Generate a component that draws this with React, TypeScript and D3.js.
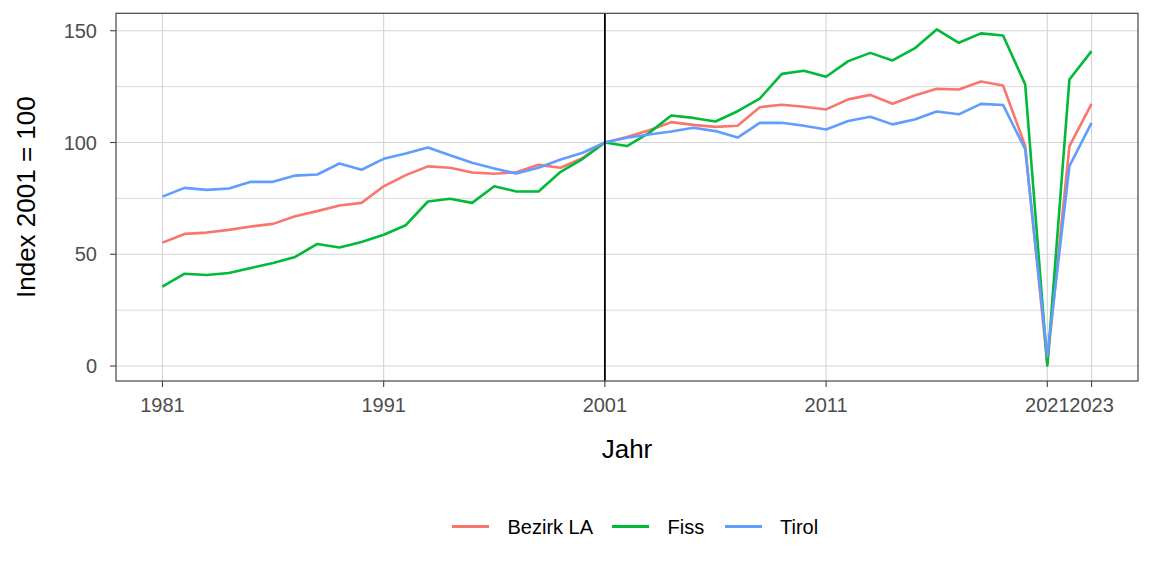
import React from "react";
import * as d3 from "d3";

const years: number[] = d3.range(1981, 2024);

const bezirkLA: number[] = [
  55.2, 59.1, 59.7, 60.9, 62.4, 63.6, 67.0, 69.3, 71.8, 73.0,
  80.4, 85.4, 89.3, 88.7, 86.6, 86.0, 86.7, 90.0, 88.7, 93.1,
  100, 102.5, 105.5, 109.1, 107.9, 107.0, 107.5, 115.8, 116.9, 116.0,
  114.8, 119.3, 121.3, 117.3, 121.0, 124.0, 123.7, 127.3, 125.5, 98.5,
  1.0, 98.4, 117.3,
];
const fiss: number[] = [
  35.5, 41.3, 40.7, 41.6, 43.9, 46.1, 48.8, 54.6, 53.0, 55.5,
  58.7, 63.0, 73.6, 74.8, 73.0, 80.4, 78.1, 78.1, 86.9, 92.7,
  100, 98.4, 104.3, 112.1, 111.0, 109.4, 114.0, 119.6, 130.7, 132.1,
  129.4, 136.4, 140.1, 136.7, 142.1, 150.6, 144.6, 148.8, 147.9, 126.0,
  0.2, 128.2, 140.9,
];
const tirol: number[] = [
  75.8, 79.7, 78.8, 79.4, 82.4, 82.4, 85.2, 85.7, 90.6, 87.8,
  92.7, 95.1, 97.8, 94.3, 90.9, 88.4, 86.1, 88.7, 92.4, 95.4,
  100, 102.1, 103.6, 104.9, 106.6, 105.1, 102.2, 108.8, 108.8, 107.5,
  105.8, 109.6, 111.5, 108.1, 110.3, 113.9, 112.6, 117.3, 116.8, 97.0,
  4.3, 89.4, 108.8,
];

const seriesNames: string[] = ["Bezirk LA", "Fiss", "Tirol"];
const seriesColors: string[] = ["#F8766D", "#00BA38", "#619CFF"];
const xTicks: number[] = [1981, 1991, 2001, 2011, 2021, 2023];
const yTicks: number[] = [0, 50, 100, 150];
const yMinor: number[] = [25, 75, 125];
const refYear = 2001;

const W = 1152;
const H = 576;
const panel = { left: 116, right: 1138, top: 13.3, bottom: 381 };
const FONT = "'Liberation Sans', Arial, sans-serif";

export default function App() {
  const x = d3.scaleLinear().domain([1978.9, 2025.1]).range([panel.left, panel.right]);
  const y = d3.scaleLinear().domain([-6.7, 157.8]).range([panel.bottom, panel.top]);
  const allSeries = [bezirkLA, fiss, tirol];
  const line = d3
    .line<number>()
    .x((_, i) => x(years[i]))
    .y((d) => y(d));

  const legendX = [452, 612, 725];
  const legendTextX = [507.5, 667.5, 780];
  const legendY = 526.5;

  return (
    <svg
      width={W}
      height={H}
      style={{ position: "absolute", left: 0, top: 0, background: "#fff" }}
      fontFamily={FONT}
    >
      <rect x={0} y={0} width={W} height={H} fill="#fff" />
      {/* gridlines */}
      {yMinor.map((v) => (
        <line key={"ym" + v} x1={panel.left} x2={panel.right} y1={y(v)} y2={y(v)} stroke="#dcdcdc" strokeWidth={1} />
      ))}
      {yTicks.map((v) => (
        <line key={"yg" + v} x1={panel.left} x2={panel.right} y1={y(v)} y2={y(v)} stroke="#d4d4d4" strokeWidth={1.1} />
      ))}
      {xTicks.map((v) => (
        <line key={"xg" + v} x1={x(v)} x2={x(v)} y1={panel.top} y2={panel.bottom} stroke="#d4d4d4" strokeWidth={1.1} />
      ))}
      {/* data lines */}
      {allSeries.map((s, k) => (
        <path
          key={seriesNames[k]}
          d={line(s) || ""}
          fill="none"
          stroke={seriesColors[k]}
          strokeWidth={2.6}
          strokeLinejoin="round"
        />
      ))}
      {/* reference line */}
      <line x1={x(refYear)} x2={x(refYear)} y1={panel.top} y2={panel.bottom} stroke="#000" strokeWidth={1.8} />
      {/* border */}
      <rect
        x={panel.left}
        y={panel.top}
        width={panel.right - panel.left}
        height={panel.bottom - panel.top}
        fill="none"
        stroke="#444"
        strokeWidth={1.2}
      />
      {/* y axis ticks */}
      {yTicks.map((v) => (
        <g key={"yt" + v}>
          <line x1={panel.left - 6} x2={panel.left} y1={y(v)} y2={y(v)} stroke="#444" strokeWidth={1.1} />
          <text x={panel.left - 19} y={y(v)} dy="0.36em" textAnchor="end" fontSize={20} fill="#4d4d4d">
            {v}
          </text>
        </g>
      ))}
      {/* x axis ticks */}
      {xTicks.map((v) => (
        <g key={"xt" + v}>
          <line x1={x(v)} x2={x(v)} y1={panel.bottom} y2={panel.bottom + 6} stroke="#444" strokeWidth={1.1} />
          <text x={x(v)} y={412} textAnchor="middle" fontSize={20} fill="#4d4d4d">
            {v}
          </text>
        </g>
      ))}
      {/* axis titles */}
      <text x={(panel.left + panel.right) / 2} y={458} textAnchor="middle" fontSize={26} fill="#000">
        Jahr
      </text>
      <text
        transform={`translate(35, ${(panel.top + panel.bottom) / 2}) rotate(-90)`}
        textAnchor="middle"
        fontSize={26}
        fill="#000"
      >
        Index 2001 = 100
      </text>
      {/* legend */}
      {seriesNames.map((n, k) => (
        <g key={"lg" + n}>
          <line
            x1={legendX[k]}
            x2={legendX[k] + 37}
            y1={legendY}
            y2={legendY}
            stroke={seriesColors[k]}
            strokeWidth={2.8}
          />
          <text x={legendTextX[k]} y={legendY} dy="0.36em" fontSize={20} fill="#000">
            {n}
          </text>
        </g>
      ))}
    </svg>
  );
}
